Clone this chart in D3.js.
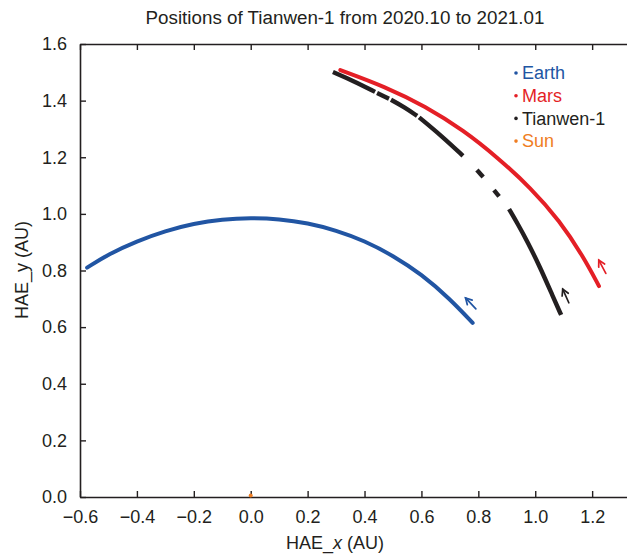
<!DOCTYPE html>
<html lang="en">
<head>
<meta charset="utf-8">
<script src="https://d3js.org/d3.v7.min.js"></script>
<title>Positions of Tianwen-1</title>
<style>
  body { margin: 0; background: #fff; }
  text { font-family: "Liberation Sans", Arial, sans-serif; fill: #231f20; }
</style>
</head>
<body>
<svg id="chart" width="627" height="554"></svg>
<script>
// tick values
var xTicks = [-0.6, -0.4, -0.2, 0.0, 0.2, 0.4, 0.6, 0.8, 1.0, 1.2];
var yTicks = [0.0, 0.2, 0.4, 0.6, 0.8, 1.0, 1.2, 1.4, 1.6];

// positions (AU), ordered from 2020.10 to 2021.01
var earthTrack = [[0.78, 0.615], [0.70, 0.70], [0.60, 0.787], [0.50, 0.853], [0.40, 0.905],
  [0.30, 0.942], [0.20, 0.968], [0.10, 0.982], [0.0, 0.986], [-0.10, 0.981], [-0.20, 0.966],
  [-0.30, 0.94], [-0.40, 0.904], [-0.50, 0.858], [-0.575, 0.81]];

var marsTrack = [[1.224, 0.745], [1.169, 0.849], [1.085, 0.977], [0.984, 1.092], [0.870, 1.197],
  [0.748, 1.295], [0.614, 1.380], [0.471, 1.450], [0.315, 1.508]];

// tianwen-1 has gaps in the data, so keep it as pieces (2020.10 first)
var tianwenPieces = [
  [[1.091, 0.643], [1.063, 0.706], [1.017, 0.812], [0.971, 0.905], [0.940, 0.962], [0.908, 1.017]],
  [[0.873, 1.062], [0.855, 1.084]],
  [[0.817, 1.130], [0.795, 1.155]],
  [[0.746, 1.205], [0.669, 1.277], [0.592, 1.341]],
  [[0.585, 1.346], [0.540, 1.377], [0.493, 1.403]],
  [[0.486, 1.407], [0.444, 1.427]],
  [[0.437, 1.431], [0.360, 1.470], [0.289, 1.501]]
];

var sunPos = [0.0, 0.0];

var legendNames = ["Earth", "Mars", "Tianwen-1", "Sun"];
var legendColors = ["#2155a3", "#e41f26", "#231f20", "#ef7d22"];

var svg = d3.select("#chart");

var x = d3.scaleLinear().domain([-0.6, 1.345]).range([80, 633.4]);
var y = d3.scaleLinear().domain([0, 1.6]).range([497, 44]);

var fmt = d3.format(".1f");

// axes - ticks point inward on every side
svg.append("g").attr("transform", "translate(0,497)")
  .call(d3.axisBottom(x).tickValues(xTicks).tickSizeInner(-6).tickSizeOuter(0).tickPadding(13).tickFormat(fmt));
svg.append("g").attr("transform", "translate(0,44)")
  .call(d3.axisTop(x).tickValues(xTicks).tickSizeInner(-6).tickSizeOuter(0).tickFormat(""));
svg.append("g").attr("transform", "translate(80,0)")
  .call(d3.axisLeft(y).tickValues(yTicks).tickSizeInner(-6).tickSizeOuter(0).tickPadding(13).tickFormat(fmt));
svg.append("g").attr("transform", "translate(633.4,0)")
  .call(d3.axisRight(y).tickValues(yTicks).tickSizeInner(-6).tickSizeOuter(0).tickFormat(""));

svg.selectAll(".domain").attr("stroke", "#231f20").attr("stroke-width", 1.6);
svg.selectAll(".tick line").attr("stroke", "#231f20").attr("stroke-width", 1.4);
svg.selectAll(".tick text").attr("fill", "#231f20").attr("font-size", 18)
  .attr("font-family", "Liberation Sans, Arial, sans-serif");

var line = d3.line()
  .x(function(d) { return x(d[0]); })
  .y(function(d) { return y(d[1]); })
  .curve(d3.curveBasis);

svg.append("path").datum(earthTrack)
  .attr("d", line).attr("fill", "none")
  .attr("stroke", legendColors[0]).attr("stroke-width", 4).attr("stroke-linecap", "round");

svg.append("path").datum(marsTrack)
  .attr("d", line).attr("fill", "none")
  .attr("stroke", legendColors[1]).attr("stroke-width", 4).attr("stroke-linecap", "round");

svg.selectAll(".tw").data(tianwenPieces).enter().append("path")
  .attr("class", "tw")
  .attr("d", line).attr("fill", "none")
  .attr("stroke", legendColors[2]).attr("stroke-width", 4.4).attr("stroke-linecap", "butt");

// little direction arrows next to the 2020.10 end of each track
function arrow(p0, p1, color) {
  var ax = x(p0[0]), ay = y(p0[1]);
  var dx = x(p1[0]) - ax, dy = y(p1[1]) - ay;
  var len = Math.sqrt(dx * dx + dy * dy);
  dx /= len; dy /= len;
  var nx = -dy, ny = dx;
  var tx = ax + 8 * dx + 12 * nx, ty = ay + 8 * dy + 12 * ny;
  var hx = tx + 15 * dx, hy = ty + 15 * dy;
  var a = Math.atan2(dy, dx), h = 7, s = 0.5;
  var g = svg.append("g").attr("stroke", color).attr("stroke-width", 1.7)
    .attr("fill", "none").attr("stroke-linecap", "round");
  g.append("line").attr("x1", tx).attr("y1", ty).attr("x2", hx).attr("y2", hy);
  g.append("path").attr("d",
    "M" + (hx - h * Math.cos(a - s)) + "," + (hy - h * Math.sin(a - s)) +
    "L" + hx + "," + hy +
    "L" + (hx - h * Math.cos(a + s)) + "," + (hy - h * Math.sin(a + s)));
}
arrow(earthTrack[0], earthTrack[1], legendColors[0]);
arrow(marsTrack[0], marsTrack[1], legendColors[1]);
arrow(tianwenPieces[0][0], tianwenPieces[0][1], legendColors[2]);

// the sun
svg.append("circle")
  .attr("cx", x(sunPos[0])).attr("cy", y(sunPos[1]) - 1.5).attr("r", 2)
  .attr("fill", legendColors[3]);

// legend
var leg = svg.selectAll(".leg").data(legendNames).enter().append("g")
  .attr("class", "leg")
  .attr("transform", function(d, i) { return "translate(516," + (73 + i * 22.7) + ")"; });
leg.append("circle").attr("r", 1.8).attr("fill", function(d, i) { return legendColors[i]; });
leg.append("text").attr("x", 6).attr("dy", "0.35em")
  .style("font-size", "18px")
  .style("fill", function(d, i) { return legendColors[i]; })
  .text(function(d) { return d; });

// titles
svg.append("text")
  .attr("x", 345).attr("y", 24)
  .attr("text-anchor", "middle")
  .style("font-size", "18.8px")
  .text("Positions of Tianwen-1 from 2020.10 to 2021.01");

var xl = svg.append("text")
  .attr("x", 335).attr("y", 549)
  .attr("text-anchor", "middle")
  .style("font-size", "18px");
xl.append("tspan").text("HAE_");
xl.append("tspan").style("font-style", "italic").text("x");
xl.append("tspan").text(" (AU)");

svg.append("text")
  .attr("transform", "translate(28,270) rotate(-90)")
  .attr("text-anchor", "middle")
  .style("font-size", "18px")
  .text("HAE_y (AU)");
</script>
</body>
</html>
